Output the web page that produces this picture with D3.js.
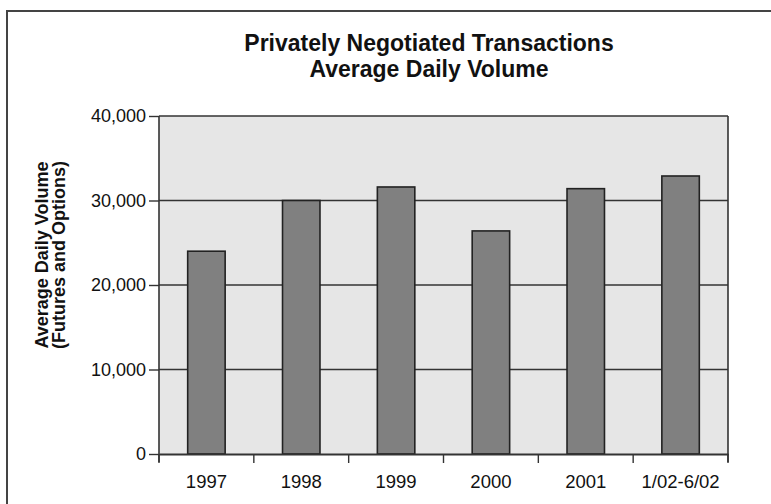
<!DOCTYPE html>
<html><head><meta charset="utf-8">
<script src="https://cdn.jsdelivr.net/npm/d3@7"></script>
<style>body{margin:0;background:#fff}svg{display:block}text{font-family:"Liberation Sans",Arial,sans-serif;fill:#111}</style>
</head><body><svg id="c" width="771" height="504"></svg>
<script>
const categories = ["1997","1998","1999","2000","2001","1/02-6/02"];
const volumes = [24000, 30000, 31600, 26400, 31400, 32900];
const yTicks = [0, 10000, 20000, 30000, 40000];
const titleLines = ["Privately Negotiated Transactions","Average Daily Volume"];
const yTitleLines = ["Average Daily Volume","(Futures and Options)"];

const svg = d3.select("#c");
const m = {left:159, right:728, top:116, bottom:454};

// outer frame (left & top visible)
svg.append("rect").attr("x",7).attr("y",11).attr("width",800).attr("height",520)
  .attr("fill","none").attr("stroke","#444").attr("stroke-width",2);

const x = d3.scaleBand().domain(categories).range([m.left, m.right]).padding(0);
const y = d3.scaleLinear().domain([0,40000]).range([m.bottom, m.top]);

svg.append("rect").attr("x",m.left).attr("y",m.top).attr("width",m.right-m.left).attr("height",m.bottom-m.top)
  .attr("fill","#e6e6e6");

// grid
svg.append("g").selectAll("line").data(yTicks.filter(d=>d>0)).join("line")
  .attr("x1",m.left).attr("x2",m.right).attr("y1",d=>y(d)).attr("y2",d=>y(d))
  .attr("stroke","#333").attr("stroke-width",1.6);

// bars
const bw = x.bandwidth()*0.395;
svg.append("g").selectAll("rect").data(volumes).join("rect")
  .attr("x",(d,i)=>x(categories[i])+x.bandwidth()/2-bw/2)
  .attr("y",d=>y(d)).attr("width",bw).attr("height",d=>y(0)-y(d))
  .attr("fill","#808080").attr("stroke","#222").attr("stroke-width",1.6);

// frame of plot (left, right)
svg.append("line").attr("x1",m.left).attr("x2",m.left).attr("y1",m.top).attr("y2",m.bottom+8).attr("stroke","#333").attr("stroke-width",1.6);
svg.append("line").attr("x1",m.right).attr("x2",m.right).attr("y1",m.top).attr("y2",m.bottom+8).attr("stroke","#333").attr("stroke-width",1.6);

// y axis
const ya = d3.axisLeft(y).tickValues(yTicks).tickFormat(d3.format(",")).tickSize(10).tickPadding(3);
const gy = svg.append("g").attr("transform",`translate(${m.left},0)`).call(ya);
gy.select(".domain").remove();
gy.selectAll("line").attr("stroke","#333").attr("stroke-width",1.4);
gy.selectAll("text").attr("font-size",18).attr("fill","#111").style("letter-spacing","0px");

// x axis
const xa = d3.axisBottom(x).tickSize(0).tickPadding(21);
const gx = svg.append("g").attr("transform",`translate(0,${m.bottom})`).call(xa);
gx.select(".domain").attr("stroke","#333").attr("stroke-width",1.8);
gx.selectAll("text").attr("font-size",18.5).attr("fill","#111");
// boundary ticks
const bounds = categories.map(c=>x(c)).concat([m.right]);
svg.append("g").selectAll("line").data(bounds).join("line")
  .attr("x1",d=>d).attr("x2",d=>d).attr("y1",m.bottom).attr("y2",m.bottom+9)
  .attr("stroke","#333").attr("stroke-width",1.4);

// title
svg.append("g").selectAll("text").data(titleLines).join("text")
  .attr("x",429).attr("y",(d,i)=>51+i*26).attr("text-anchor","middle")
  .attr("font-size",23).attr("font-weight","bold").style("letter-spacing","0px").text(d=>d);

// y title
svg.append("g").selectAll("text").data(yTitleLines).join("text")
  .attr("transform",(d,i)=>`translate(${48+i*17},255) rotate(-90)`).attr("text-anchor","middle")
  .attr("font-size",18).attr("font-weight","bold").text(d=>d);
</script></body></html>
